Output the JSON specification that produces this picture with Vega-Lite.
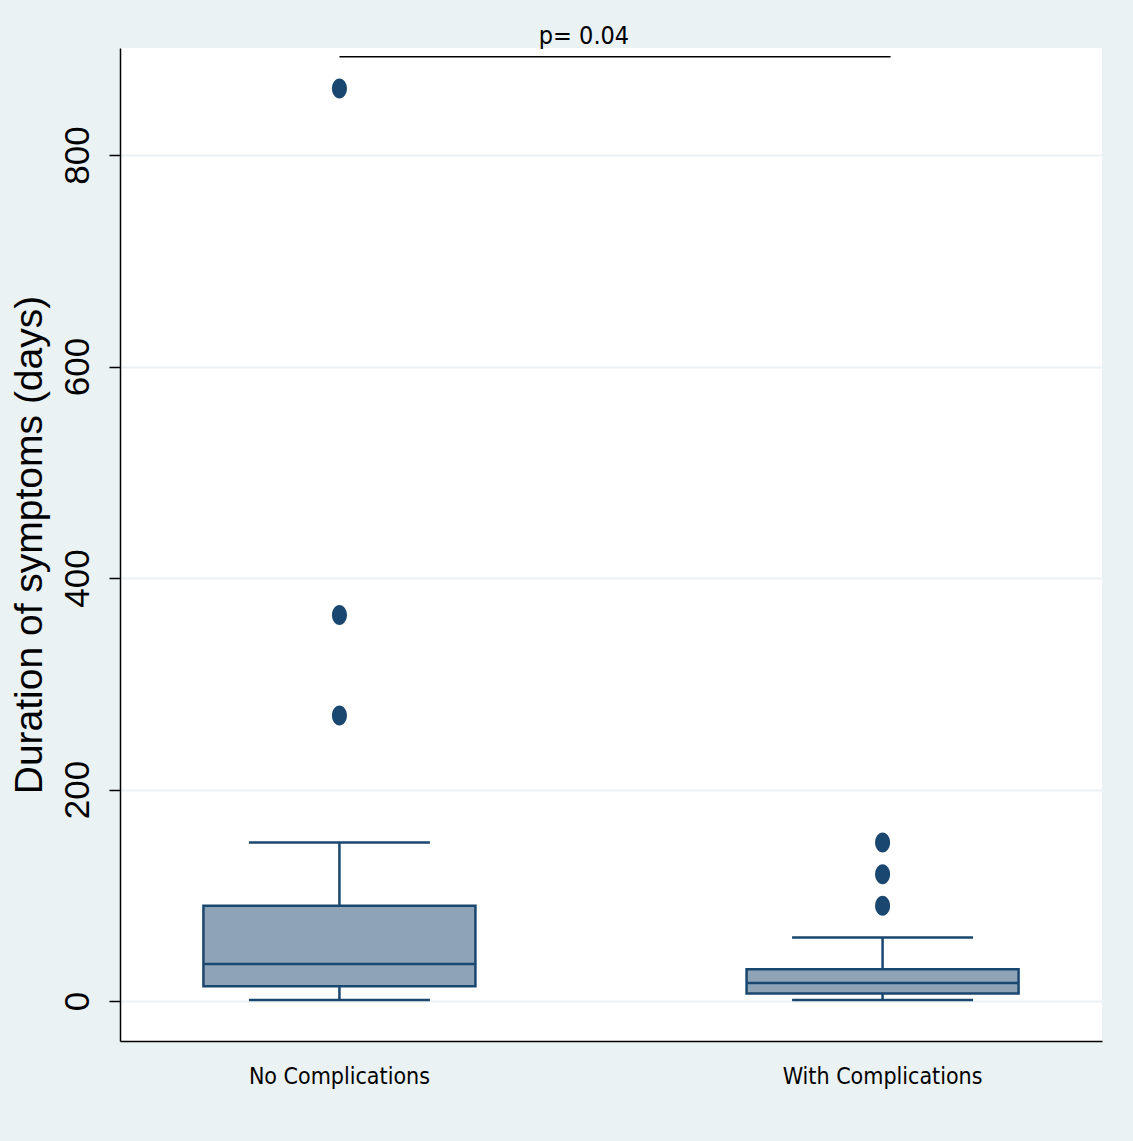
{
  "$schema": "https://vega.github.io/schema/vega-lite/v6.json",
  "width": 982,
  "height": 993,
  "autosize": "none",
  "padding": {"left": 120, "top": 48, "right": 31, "bottom": 100},
  "background": "#EAF2F3",
  "title": {
    "text": "p= 0.04",
    "anchor": "middle",
    "frame": "group",
    "dx": -27,
    "dy": 23,
    "offset": -3,
    "baseline": "bottom",
    "fontSize": 25,
    "font": "DejaVu Sans Condensed, sans-serif",
    "fontWeight": "normal",
    "color": "#000000"
  },
  "config": {
    "view": {"fill": "#FFFFFF", "stroke": null}
  },
  "datasets": {
    "boxes": [
      {"group": "No Complications", "min": 1, "q1": 14, "median": 35, "q3": 90, "max": 150},
      {"group": "With Complications", "min": 1, "q1": 7, "median": 17, "q3": 30, "max": 60}
    ],
    "outliers": [
      {"group": "No Complications", "value": 863},
      {"group": "No Complications", "value": 365},
      {"group": "No Complications", "value": 270},
      {"group": "With Complications", "value": 150},
      {"group": "With Complications", "value": 120},
      {"group": "With Complications", "value": 90}
    ],
    "sig": [
      {"from": "No Complications", "to": "With Complications", "y": 893}
    ]
  },
  "encoding": {
    "x": {
      "field": "group",
      "type": "nominal",
      "sort": ["No Complications", "With Complications"],
      "scale": {"type": "band", "paddingInner": 0.5, "paddingOuter": 0.154, "domain": ["No Complications", "With Complications"]},
      "axis": {
        "title": null,
        "ticks": false,
        "labelAngle": 0,
        "labelPadding": 24,
        "labelLimit": 0,
        "labelFontSize": 23,
        "labelFont": "DejaVu Sans Condensed, sans-serif",
        "labelColor": "#000000",
        "domainColor": "#000000",
        "domainWidth": 1.5,
        "grid": false
      }
    }
  },
  "layer": [
    {
      "data": {"name": "boxes"},
      "mark": {"type": "rule", "color": "#1A476F", "strokeWidth": 2.5},
      "encoding": {
        "y": {
          "field": "min",
          "type": "quantitative",
          "scale": {"domain": [-37.8, 901.2], "nice": false, "zero": false},
          "axis": {
            "values": [0, 200, 400, 600, 800],
            "title": "Duration of symptoms (days)",
            "titleFontSize": 39,
            "titleFont": "Liberation Sans, Arial, sans-serif",
            "titleFontWeight": "normal",
            "titleColor": "#000000",
            "titlePadding": 11,
            "labelAngle": -90,
            "labelFontSize": 35,
            "labelFont": "Liberation Sans, Arial, sans-serif",
            "labelColor": "#000000",
            "labelPadding": 14,
            "tickSize": 11,
            "tickColor": "#000000",
            "tickWidth": 1.5,
            "domainColor": "#000000",
            "domainWidth": 1.5,
            "grid": true,
            "gridColor": "#EAF2F3",
            "gridWidth": 2
          }
        },
        "y2": {"field": "max"}
      }
    },
    {
      "data": {"name": "boxes"},
      "mark": {"type": "tick", "color": "#1A476F", "opacity": 1, "size": 181, "thickness": 2.5},
      "encoding": {"y": {"field": "min", "type": "quantitative"}}
    },
    {
      "data": {"name": "boxes"},
      "mark": {"type": "tick", "color": "#1A476F", "opacity": 1, "size": 181, "thickness": 2.5},
      "encoding": {"y": {"field": "max", "type": "quantitative"}}
    },
    {
      "data": {"name": "boxes"},
      "mark": {"type": "bar", "size": 272, "fill": "#8FA3B7", "opacity": 1, "stroke": "#1A476F", "strokeWidth": 2.5},
      "encoding": {
        "y": {"field": "q1", "type": "quantitative"},
        "y2": {"field": "q3"}
      }
    },
    {
      "data": {"name": "boxes"},
      "mark": {"type": "tick", "color": "#1A476F", "opacity": 1, "size": 272, "thickness": 2.5},
      "encoding": {"y": {"field": "median", "type": "quantitative"}}
    },
    {
      "data": {"name": "outliers"},
      "mark": {"type": "point", "filled": true, "opacity": 1, "color": "#1A476F", "size": 400, "shape": "M0,-1 A0.75,1 0 1,1 0,1 A0.75,1 0 1,1 0,-1 Z"},
      "encoding": {"y": {"field": "value", "type": "quantitative"}}
    },
    {
      "data": {"name": "sig"},
      "mark": {"type": "rule", "color": "#000000", "strokeWidth": 1.5, "x2Offset": 8},
      "encoding": {
        "x": {"field": "from", "type": "nominal"},
        "x2": {"field": "to"},
        "y": {"field": "y", "type": "quantitative"}
      }
    }
  ]
}
